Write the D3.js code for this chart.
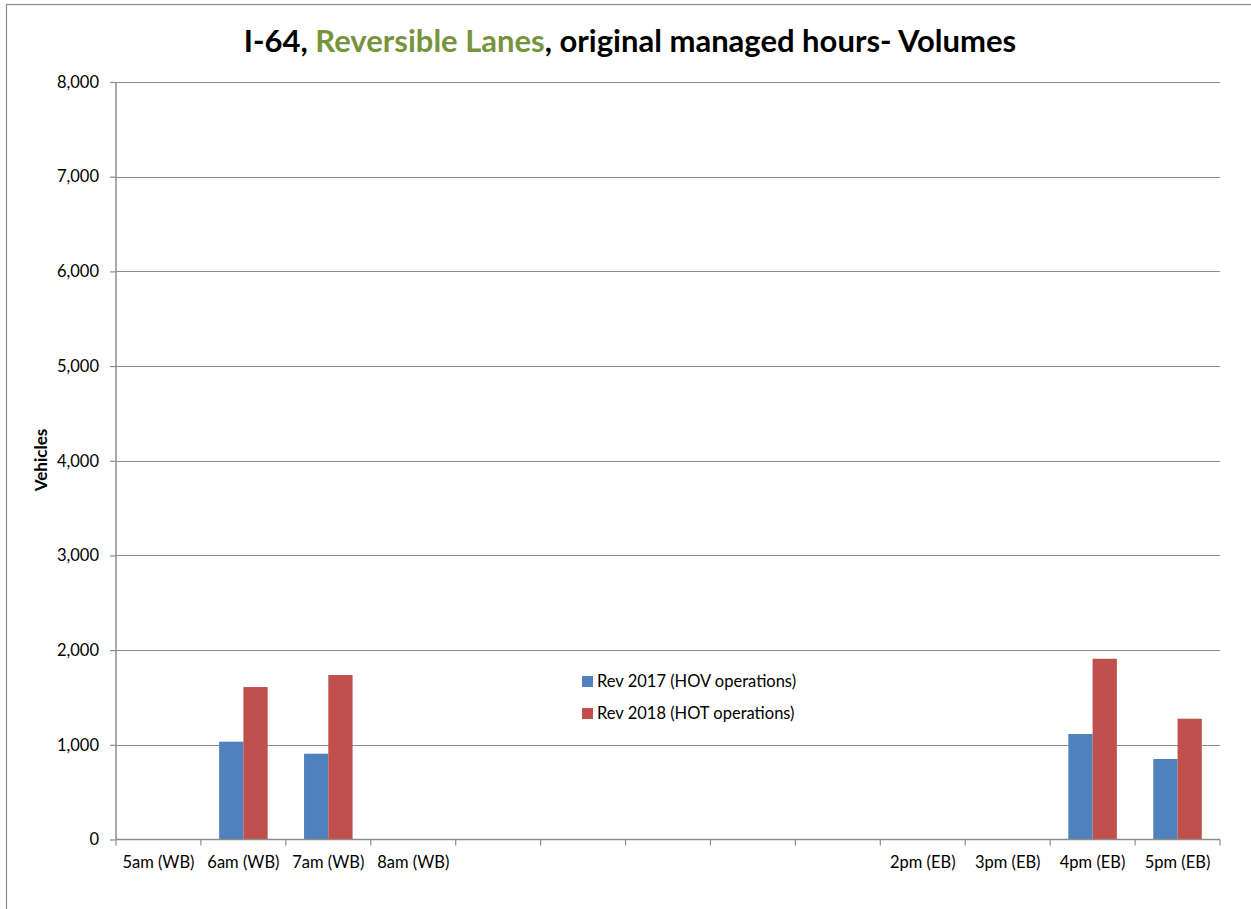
<!DOCTYPE html>
<html>
<head>
<meta charset="utf-8">
<script src="https://cdn.jsdelivr.net/npm/d3@7"></script>
<style>
  html, body { margin: 0; padding: 0; background: #fff; }
  svg { display: block; }
  text { font-family: Lato, "Open Sans", sans-serif; }
</style>
</head>
<body>
<svg id="chart" width="1251" height="909"></svg>
<script>
const categories = ["5am (WB)", "6am (WB)", "7am (WB)", "8am (WB)", "", "", "", "", "", "2pm (EB)", "3pm (EB)", "4pm (EB)", "5pm (EB)"];
const seriesNames = ["Rev 2017 (HOV operations)", "Rev 2018 (HOT operations)"];
const rev2017 = [null, 1033, 906, null, null, null, null, null, null, null, null, 1114, 850];
const rev2018 = [null, 1610, 1737, null, null, null, null, null, null, null, null, 1909, 1276];
const yTicks = [0, 1000, 2000, 3000, 4000, 5000, 6000, 7000, 8000];
const colors = ["#4F81BD", "#C0504D"];

(function () {
const svg = d3.select("#chart");
const pLeft = 116, pRight = 1220, pTop = 82, pBottom = 839.5;

// outer frame
svg.append("rect").attr("x", 6.5).attr("y", 4.5).attr("width", 1300).attr("height", 1000)
  .attr("fill", "none").attr("stroke", "#8c8c8c").attr("stroke-width", 1.2);

const x = d3.scaleBand().domain(d3.range(categories.length)).range([pLeft, pRight]).paddingInner(0).paddingOuter(0);
const gapRatio = 1.5; // Excel gap width 150%
const groupW = x.bandwidth() * 2 / (2 + gapRatio);
const xInner = d3.scaleBand().domain([0, 1]).range([0, groupW]);
const offset = (x.bandwidth() - groupW) / 2;
const y = d3.scaleLinear().domain([0, 8000]).range([pBottom, pTop]);

// gridlines
svg.append("g").selectAll("line").data(yTicks.filter(d => d > 0)).join("line")
  .attr("x1", pLeft).attr("x2", pRight)
  .attr("y1", d => Math.round(y(d)) + 0.5).attr("y2", d => Math.round(y(d)) + 0.5)
  .attr("stroke", "#8c8c8c").attr("stroke-width", 1);

// bars
const series = [rev2017, rev2018];
series.forEach((vals, si) => {
  svg.append("g").selectAll("rect").data(vals.map((v, i) => ({v, i})).filter(d => d.v != null)).join("rect")
    .attr("x", d => x(d.i) + offset + xInner(si))
    .attr("y", d => y(d.v))
    .attr("width", xInner.bandwidth())
    .attr("height", d => y(0) - y(d.v))
    .attr("fill", colors[si]);
});

// y axis
const yAxis = d3.axisLeft(y).tickValues(yTicks).tickSize(6).tickPadding(11).tickFormat(d3.format(","));
const gy = svg.append("g").attr("transform", `translate(${pLeft},0)`).call(yAxis);
gy.select(".domain").attr("stroke", "#8c8c8c").attr("stroke-width", 1.5).attr("d", `M0,${pTop}V${pBottom}`);
gy.selectAll(".tick line").attr("stroke", "#8c8c8c").attr("stroke-width", 1.2);
gy.selectAll(".tick text").attr("font-size", 16.5).attr("fill", "#000").attr("font-family", "Lato, sans-serif");

// x axis
const xAxis = d3.axisBottom(x).tickFormat(i => categories[i]).tickSize(0).tickPadding(17);
const gx = svg.append("g").attr("transform", `translate(0,${pBottom})`).call(xAxis);
gx.select(".domain").attr("stroke", "#8c8c8c").attr("stroke-width", 1.5).attr("d", `M${pLeft},0H${pRight}`);
gx.selectAll(".tick text").attr("font-size", 16.5).attr("fill", "#000").attr("font-family", "Lato, sans-serif");
// category boundary ticks
svg.append("g").selectAll("line").data(d3.range(categories.length + 1)).join("line")
  .attr("x1", i => pLeft + i * x.step()).attr("x2", i => pLeft + i * x.step())
  .attr("y1", pBottom).attr("y2", pBottom + 6)
  .attr("stroke", "#8c8c8c").attr("stroke-width", 1.2);

// title
const title = svg.append("text").attr("x", 630).attr("y", 52).attr("text-anchor", "middle")
  .attr("font-size", 31).attr("font-weight", "bold").attr("fill", "#000");
title.append("tspan").text("I-64, ");
title.append("tspan").attr("fill", "#77933C").text("Reversible Lanes");
title.append("tspan").text(", original managed hours- Volumes");

// y label
svg.append("text").attr("transform", "translate(47,460) rotate(-90)").attr("text-anchor", "middle")
  .attr("font-size", 17).attr("font-weight", "bold").attr("fill", "#000").text("Vehicles");

// legend
const lg = svg.append("g").attr("transform", "translate(582,676)");
seriesNames.forEach((n, i) => {
  const g = lg.append("g").attr("transform", `translate(0,${i * 32})`);
  g.append("rect").attr("width", 11).attr("height", 11).attr("fill", colors[i]);
  g.append("text").attr("x", 15).attr("y", 11).attr("font-size", 16.5).attr("fill", "#000").text(n);
});
})();
</script>
</body>
</html>
